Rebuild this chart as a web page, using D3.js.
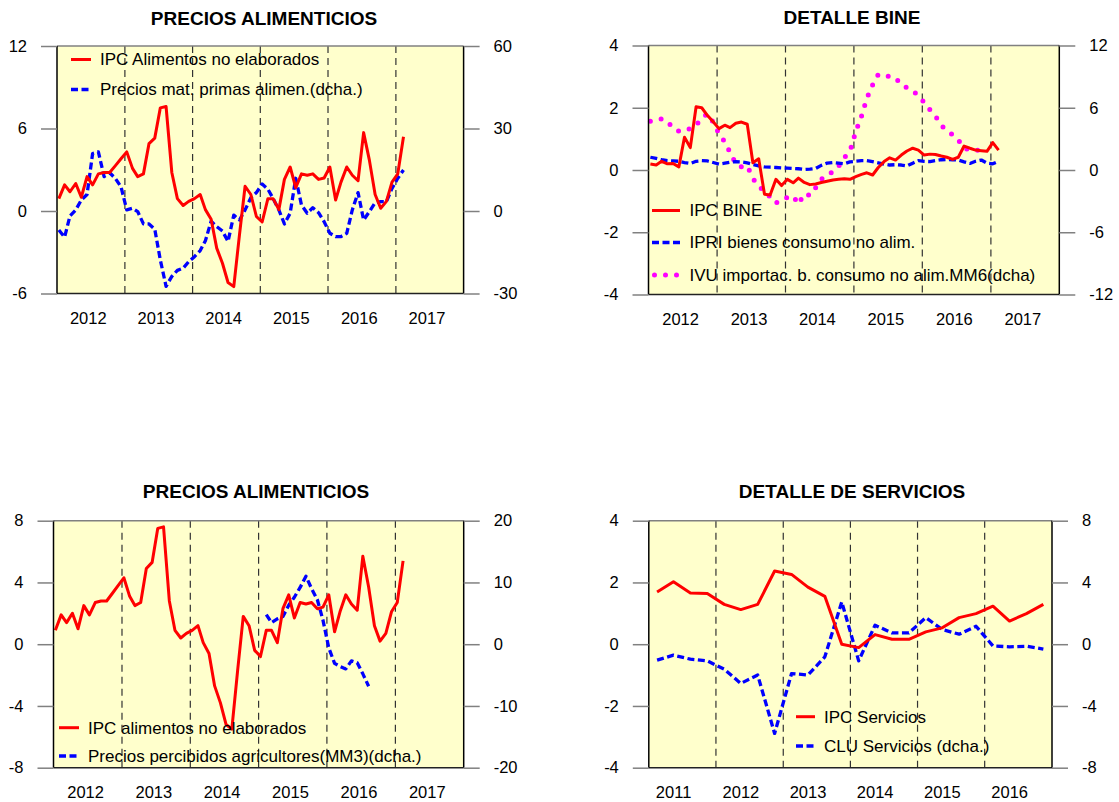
<!DOCTYPE html>
<html>
<head>
<meta charset="utf-8">
<script src="https://cdnjs.cloudflare.com/ajax/libs/d3/7.8.5/d3.min.js"></script>
<style>
  body { margin: 0; background: #fff; }
  svg text { font-family: "Liberation Sans", Arial, Helvetica, sans-serif; }
</style>
</head>
<body>
<svg id="chart" width="1119" height="802"></svg>
<script>
// ---- data ----
// monthly, Jan 2012 .. Feb 2017
const foodMonths = d3.timeMonth.range(new Date(2012, 0, 1), new Date(2017, 2, 1)).map(d => d3.timeDay.offset(d, 10));

const ipcAlimentos = [
  0.9, 1.9, 1.4, 2.0, 1.0, 2.5, 1.9, 2.7, 2.8, 2.8, 3.3, 3.8,
  4.3, 3.1, 2.5, 2.7, 4.9, 5.3, 7.5, 7.6, 2.8, 0.9, 0.4, 0.7,
  0.9, 1.2, 0.1, -0.6, -2.7, -3.8, -5.2, -5.5, -1.7, 1.8, 1.2, -0.4,
  -0.8, 0.9, 0.9, 0.1, 2.3, 3.2, 1.7, 2.7, 2.6, 2.7, 2.3, 2.4,
  3.2, 0.8, 2.1, 3.2, 2.6, 2.2, 5.7, 3.7, 1.2, 0.2, 0.7, 2.1,
  2.7, 5.4
];
const matPrimas = [
  -6.9, -9.5, -1.8, 0.4, 4.0, 6.0, 20.9, 21.5, 12.5, 13.9, 11.8, 8.8,
  0.4, 1.0, -0.2, -4.7, -4.7, -6.6, -17.8, -27.4, -23.8, -21.6, -20.8, -18.4,
  -16.6, -14.4, -10.8, -3.7, -5.7, -7.3, -11.1, -1.5, -3.3, 0.4, 4.8, 6.7,
  9.8, 7.9, 4.6, 0.4, -4.7, -0.8, 11.9, 2.2, -0.8, 1.2, -0.6, -3.9,
  -8.1, -9.3, -9.3, -8.1, 0.4, 6.7, -3.3, -0.2, 3.0, 3.4, 3.4, 8.2,
  11.9, 14.9
];

const ipcBine = [
  0.19, 0.16, 0.28, 0.2, 0.21, 0.1, 1.05, 0.72, 2.03, 2.0, 1.75, 1.55,
  1.33, 1.44, 1.36, 1.5, 1.54, 1.47, 0.23, 0.36, -0.78, -0.8, -0.3, -0.5,
  -0.3, -0.41, -0.26, -0.4, -0.47, -0.45, -0.4, -0.36, -0.32, -0.3, -0.28, -0.3,
  -0.21, -0.14, -0.09, -0.16, 0.08, 0.27, 0.39, 0.32, 0.48, 0.61, 0.7, 0.64,
  0.48, 0.51, 0.5, 0.45, 0.41, 0.34, 0.41, 0.77, 0.7, 0.64, 0.62, 0.6,
  0.88, 0.64
];
const ipriBienes = [
  0.41, 0.37, 0.33, 0.30, 0.29, 0.28, 0.24, 0.21, 0.28, 0.30, 0.29, 0.24,
  0.19, 0.22, 0.25, 0.27, 0.26, 0.23, 0.18, 0.13, 0.10, 0.09, 0.08, 0.07,
  0.06, 0.05, 0.04, 0.02, 0.03, 0.05, 0.15, 0.22, 0.24, 0.22, 0.20, 0.26,
  0.28, 0.30, 0.30, 0.27, 0.23, 0.19, 0.16, 0.17, 0.16, 0.13, 0.22, 0.30,
  0.28, 0.27, 0.30, 0.33, 0.34, 0.33, 0.32, 0.26, 0.21, 0.28, 0.32, 0.22,
  0.20, 0.28
];
// Jan 2012 .. Dec 2016
const ivuImport = [
  4.7, 4.85, 4.93, 4.7, 4.0, 3.75, 3.75, 4.0, 4.3, 5.05, 5.4, 4.6,
  3.5, 2.7, 1.7, 0.6, 0.3, 0.4, -0.8, -1.6, -2.0, -2.6, -3.2, -2.85,
  -2.65, -2.5, -3.3, -2.3, -2.45, -1.7, -0.9, -0.45, -0.2, 0.35, 1.2, 1.8,
  3.7, 5.2, 6.9, 8.2, 9.2, 9.1, 9.0, 8.9, 8.2, 7.95, 7.6, 7.2,
  6.5, 5.8, 5.2, 4.3, 3.8, 3.4, 2.9, 2.1, 1.95, 1.95, 1.8, 1.5
];

// Feb 2015 .. Aug 2016
const farmMonths = d3.timeMonth.range(new Date(2015, 1, 1), new Date(2016, 8, 1)).map(d => d3.timeDay.offset(d, 10));
const preciosAgric = [4.8, 3.5, 4.1, 4.5, 6.3, 7.6, 9.2, 11.0, 9.0, 7.2, 3.9, -0.6, -3.1, -3.6, -4.0, -2.7, -3.0, -4.8, -6.8];

// quarterly, Q1 2011 .. Q4 2016 (mid-quarter)
const quarters = d3.range(24).map(i => new Date(2011, 1 + 3 * i, 15));
const ipcServicios = [1.69, 2.02, 1.66, 1.64, 1.29, 1.12, 1.29, 2.37, 2.26, 1.85, 1.55, 0.0,
  -0.11, 0.31, 0.16, 0.16, 0.40, 0.53, 0.86, 0.99, 1.23, 0.75, 0.99, 1.29];
const cluServicios = [-1.03, -0.71, -0.97, -1.08, -1.62, -2.54, -2.0, -5.78, -1.90, -2.0, -0.82, 2.74,
  -1.08, 1.23, 0.73, 0.73, 1.72, 0.95, 0.65, 1.16, -0.11, -0.17, -0.13, -0.32];

// ---- styles ----
const RED = { color: '#ff0000', width: 3, dash: null, cap: 'butt' };
const BLUE = { color: '#0000ff', width: 3.3, dash: '7,3.5', cap: 'butt' };
const PINK = { color: '#ff00ff', width: 5, dash: '0,11', cap: 'round' };

const svg = d3.select('#chart');

function drawPanel(p) {
  const g = svg.append('g');
  const x = d3.scaleTime().domain(p.xDomain).range([p.left, p.right]);
  const yL = d3.scaleLinear().domain(p.leftDomain).range([p.bottom, p.top]);
  const yR = d3.scaleLinear().domain(p.rightDomain).range([p.bottom, p.top]);

  g.append('rect')
    .attr('x', p.left).attr('y', p.top)
    .attr('width', p.right - p.left).attr('height', p.bottom - p.top)
    .attr('fill', '#ffffcc');

  // dashed year separators
  const bounds = d3.timeYear.range(d3.timeYear.offset(p.xDomain[0], 1), p.xDomain[1]);
  g.selectAll('.yearline').data(bounds).join('line')
    .attr('class', 'yearline')
    .attr('x1', d => x(d)).attr('x2', d => x(d))
    .attr('y1', p.top).attr('y2', p.bottom)
    .attr('stroke', '#333').attr('stroke-width', 1.2)
    .attr('stroke-dasharray', '7,5');

  // series
  p.series.forEach(s => {
    const y = s.axis === 'right' ? yR : yL;
    const line = d3.line().x(d => x(d[0])).y(d => y(d[1]));
    g.append('path')
      .datum(d3.zip(s.dates, s.values))
      .attr('d', line)
      .attr('fill', 'none')
      .attr('stroke', s.style.color)
      .attr('stroke-width', s.style.width)
      .attr('stroke-dasharray', s.style.dash)
      .attr('stroke-linecap', s.style.cap)
      .attr('stroke-linejoin', 'round');
  });

  // frame
  g.append('line').attr('x1', p.left).attr('x2', p.right).attr('y1', p.top).attr('y2', p.top)
    .attr('stroke', '#808080').attr('stroke-width', 1.5);
  g.append('line').attr('x1', p.left).attr('x2', p.right).attr('y1', p.bottom).attr('y2', p.bottom)
    .attr('stroke', '#222').attr('stroke-width', 1.5);
  [p.left, p.right].forEach(xx => {
    g.append('line').attr('x1', xx).attr('x2', xx).attr('y1', p.top).attr('y2', p.bottom)
      .attr('stroke', '#000').attr('stroke-width', 1.5);
  });

  // axes
  const styleAxis = sel => {
    sel.select('.domain').remove();
    sel.selectAll('.tick line').attr('stroke', '#808080').attr('stroke-width', 1.5);
    sel.selectAll('.tick text').attr('fill', '#000').style('font-size', '16.5px');
  };
  g.append('g').attr('transform', `translate(${p.left},0)`)
    .call(d3.axisLeft(yL).tickValues(p.leftTicks).tickSize(16).tickPadding(14).tickFormat(d => String(d)))
    .call(styleAxis);
  g.append('g').attr('transform', `translate(${p.right},0)`)
    .call(d3.axisRight(yR).tickValues(p.rightTicks).tickSize(16).tickPadding(14).tickFormat(d => String(d)))
    .call(styleAxis);

  const yearMid = p.years.map(yr => new Date(yr, 6, 1));
  g.append('g').attr('transform', `translate(${p.yearDx},${p.bottom})`)
    .call(d3.axisBottom(x).tickValues(yearMid).tickSize(0).tickPadding(19).tickFormat(d3.timeFormat('%Y')))
    .call(styleAxis);

  // title
  g.append('text')
    .attr('x', p.titleX).attr('y', p.titleY)
    .attr('text-anchor', 'middle')
    .style('font-size', '19px').style('font-weight', 'bold')
    .text(p.title);

  // legend
  p.legend.forEach(l => {
    const s = l.style;
    g.append('line')
      .attr('x1', l.x0).attr('x2', l.x1).attr('y1', l.y).attr('y2', l.y)
      .attr('stroke', s.color).attr('stroke-width', s.width)
      .attr('stroke-dasharray', s.dash).attr('stroke-linecap', s.cap);
    g.append('text')
      .attr('x', l.tx).attr('y', l.y).attr('dy', '0.35em')
      .style('font-size', '17px').attr('fill', '#000')
      .text(l.label);
  });
}

drawPanel({
  title: 'PRECIOS ALIMENTICIOS', titleX: 264, titleY: 25,
  left: 57, right: 463.6, top: 46, bottom: 293.5,
  xDomain: [new Date(2012, 0, 1), new Date(2018, 0, 1)],
  years: [2012, 2013, 2014, 2015, 2016, 2017], yearDx: -3,
  leftDomain: [-6, 12], leftTicks: [-6, 0, 6, 12],
  rightDomain: [-30, 60], rightTicks: [-30, 0, 30, 60],
  series: [
    { dates: foodMonths, values: matPrimas, axis: 'right', style: BLUE },
    { dates: foodMonths, values: ipcAlimentos, axis: 'left', style: RED }
  ],
  legend: [
    { label: 'IPC Alimentos no elaborados', style: RED, x0: 71, x1: 91, y: 59.5, tx: 100 },
    { label: 'Precios mat. primas alimen.(dcha.)', style: BLUE, x0: 71, x1: 91, y: 89.5, tx: 100 }
  ]
});

drawPanel({
  title: 'DETALLE BINE', titleX: 852, titleY: 24,
  left: 648.5, right: 1059.3, top: 45.5, bottom: 294.5,
  xDomain: [new Date(2012, 0, 1), new Date(2018, 0, 1)],
  years: [2012, 2013, 2014, 2015, 2016, 2017], yearDx: -2.5,
  leftDomain: [-4, 4], leftTicks: [-4, -2, 0, 2, 4],
  rightDomain: [-12, 12], rightTicks: [-12, -6, 0, 6, 12],
  series: [
    { dates: foodMonths.slice(0, ivuImport.length), values: ivuImport, axis: 'right', style: PINK },
    { dates: foodMonths, values: ipriBienes, axis: 'left', style: BLUE },
    { dates: foodMonths, values: ipcBine, axis: 'left', style: RED }
  ],
  legend: [
    { label: 'IPC BINE', style: RED, x0: 652, x1: 680, y: 210.5, tx: 689.5 },
    { label: 'IPRI bienes consumo no alim.', style: BLUE, x0: 652, x1: 680, y: 242.5, tx: 689.5 },
    { label: 'IVU importac. b. consumo no alim.MM6(dcha)', style: PINK, x0: 654.5, x1: 678.5, y: 275, tx: 689.5 }
  ]
});

drawPanel({
  title: 'PRECIOS ALIMENTICIOS', titleX: 256, titleY: 498,
  left: 53.5, right: 463.7, top: 520.7, bottom: 767.7,
  xDomain: [new Date(2012, 0, 1), new Date(2018, 0, 1)],
  years: [2012, 2013, 2014, 2015, 2016, 2017], yearDx: -2.5,
  leftDomain: [-8, 8], leftTicks: [-8, -4, 0, 4, 8],
  rightDomain: [-20, 20], rightTicks: [-20, -10, 0, 10, 20],
  series: [
    { dates: farmMonths, values: preciosAgric, axis: 'right', style: BLUE },
    { dates: foodMonths, values: ipcAlimentos, axis: 'left', style: RED }
  ],
  legend: [
    { label: 'IPC alimentos no elaborados', style: RED, x0: 59, x1: 79, y: 727.7, tx: 88 },
    { label: 'Precios percibidos agricultores(MM3)(dcha.)', style: BLUE, x0: 59, x1: 79, y: 756, tx: 88 }
  ]
});

drawPanel({
  title: 'DETALLE DE SERVICIOS', titleX: 852, titleY: 498,
  left: 648.8, right: 1052, top: 520.7, bottom: 767.7,
  xDomain: [new Date(2011, 0, 1), new Date(2017, 0, 1)],
  years: [2011, 2012, 2013, 2014, 2015, 2016], yearDx: -9,
  leftDomain: [-4, 4], leftTicks: [-4, -2, 0, 2, 4],
  rightDomain: [-8, 8], rightTicks: [-8, -4, 0, 4, 8],
  series: [
    { dates: quarters, values: cluServicios, axis: 'right', style: BLUE },
    { dates: quarters, values: ipcServicios, axis: 'left', style: RED }
  ],
  legend: [
    { label: 'IPC Servicios', style: RED, x0: 796, x1: 815, y: 716.7, tx: 824 },
    { label: 'CLU Servicios (dcha.)', style: BLUE, x0: 796, x1: 815, y: 746, tx: 824 }
  ]
});
</script>
</body>
</html>
